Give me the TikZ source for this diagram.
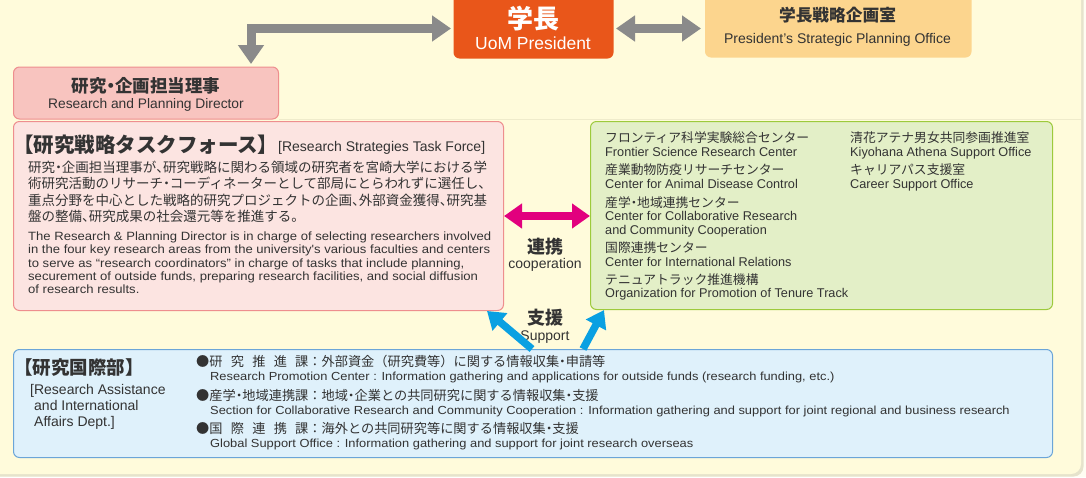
\documentclass[tikz,border=0pt]{standalone}
\usepackage{fontspec}
\setmainfont{Liberation Sans}
\newfontfamily\jp{Noto Sans CJK JP}
\newfontfamily\enA[FakeStretch=1.09]{Liberation Sans}
\newfontfamily\enB[FakeStretch=1.1]{Liberation Sans}
\usetikzlibrary{arrows.meta}
\definecolor{bgc}{HTML}{FFFBDB}
\definecolor{outerc}{HTML}{FFFDF2}
\definecolor{shadowc}{HTML}{E6E3CC}
\definecolor{faintc}{HTML}{EFEBCB}
\definecolor{presc}{HTML}{E9561A}
\definecolor{officec}{HTML}{FCD58E}
\definecolor{dirc}{HTML}{F8C4BF}
\definecolor{pinkline}{HTML}{EE8E8E}
\definecolor{tfc}{HTML}{FCE4E1}
\definecolor{grc}{HTML}{E3EFC7}
\definecolor{grline}{HTML}{9DCA3C}
\definecolor{blc}{HTML}{DFF1FB}
\definecolor{blline}{HTML}{6BA5D8}
\definecolor{greyarr}{HTML}{8A8A8A}
\definecolor{magarr}{HTML}{E2007E}
\definecolor{bluearr}{HTML}{0AA0E2}
\definecolor{txt}{HTML}{333333}
\newcommand\fsz[1]{\fontsize{#1pt}{#1pt}\selectfont}
\newcommand\nd{\makebox[0.5em][c]{・}}
\newcommand\tn{\makebox[0.5em][l]{、}}
\begin{document}
\begin{tikzpicture}[x=1pt,y=-1pt,
  box/.style={rounded corners=6pt, line width=1pt, inner sep=0pt, anchor=north west},
  tx/.style={anchor=base west, inner sep=0pt, text=txt},
  txc/.style={anchor=base, inner sep=0pt, text=txt},
  greyarrow/.style={draw=greyarr, line width=9pt, arrows={Triangle[width=25pt,length=19pt]-Triangle[width=25pt,length=19pt]}},
  magarrow/.style={draw=magarr, line width=8pt, arrows={Triangle[width=24pt,length=18pt]-Triangle[width=24pt,length=18pt]}},
  bluearrow/.style={draw=bluearr, line width=7.5pt, arrows={-Triangle[width=22pt,length=17pt]}},
  jpn/.style={tx, font=\jp\fsz{13.5}},
  enp/.style={tx, font=\enA\fsz{12}},
  gjp/.style={tx, font=\jp\fsz{12.8}},
  gen/.style={tx, font=\fsz{12.7}},
  bjp/.style={tx, font=\jp\fsz{13.2}},
  ben/.style={tx, font=\enB\fsz{11.7}}]
\clip (0,0) rectangle (1086,477);
\fill[outerc] (0,0) rectangle (1086,477);
\fill[shadowc, rounded corners=10pt] (-20,-20) rectangle (1083.5,476.5);
\fill[bgc, rounded corners=10pt] (-20,-20) rectangle (1081,474);

% boxes
\node[box, fill=presc, minimum width=160pt, minimum height=68pt] (pres) at (453,-10) {};
\node[box, fill=officec, minimum width=266.5pt, minimum height=67pt] (office) at (704.5,-10) {};
\node[box, fill=dirc, draw=pinkline, minimum width=265pt, minimum height=52pt] (dir) at (13,66.5) {};
\draw[faintc, line width=0.8pt] (dir.south east) -- (dir.south east -| 1081,0);
\node[box, fill=tfc, draw=pinkline, minimum width=490pt, minimum height=189pt] (tf) at (13,121) {};
\node[box, fill=grc, draw=grline, minimum width=462pt, minimum height=188pt] (green) at (590,121) {};
\node[box, fill=blc, draw=blline, minimum width=1039pt, minimum height=108pt] (blue) at (13,349) {};

% president
\node[txc, text=white, font=\jp\bfseries\fsz{26}] (presJ) at (533,28.6) {学長};
\node[txc, text=white, font=\fsz{17.5}] (presE) at (533,49.5) {UoM President};
% office
\node[txc, font=\jp\bfseries\fsz{16.7}] (offJ) at (837.5,21.9) {学長戦略企画室};
\node[txc, font=\fsz{14}] (offE) at (837.5,43) {President's Strategic Planning Office};
% director
\node[txc, font=\jp\bfseries\fsz{17.5}] (dirJ) at (146,92.5) {研究\nd 企画担当理事};
\node[txc, font=\fsz{13.8}] (dirE) at (146,108.6) {Research and Planning Director};

% task force
\node[tx, font=\jp\bfseries\fsz{20.5}] (tfT) at (12.8,152.5) {【研究戦略タスクフォース】};
\node[tx, font=\fsz{14}] (tfTE) at (278,151.5) {[Research Strategies Task Force]};
\node[jpn] (tj1) at (28,172) {研究\nd 企画担当理事が\tn 研究戦略に関わる領域の研究者を宮崎大学における学};
\node[jpn] (tj2) at (28,188.5) {術研究活動のリサーチ\nd コーディネーターとして部局にとらわれずに選任し\tn};
\node[jpn] (tj3) at (28,205) {重点分野を中心とした戦略的研究プロジェクトの企画\tn 外部資金獲得\tn 研究基};
\node[jpn] (tj4) at (28,221.5) {盤の整備\tn 研究成果の社会還元等を推進する。};
\node[enp] (te1) at (28,240.5) {The Research \& Planning Director is in charge of selecting researchers involved};
\node[enp] (te2) at (28,253.7) {in the four key research areas from the university's various faculties and centers};
\node[enp] (te3) at (28,267) {to serve as “research coordinators” in charge of tasks that include planning,};
\node[enp] (te4) at (28,280.2) {securement of outside funds, preparing research facilities, and social diffusion};
\node[enp] (te5) at (28,293.4) {of research results.};

% green box
\node[gjp] (g1j) at (605,142.6) {フロンティア科学実験総合センター};
\node[gen] (g1e) at (605,156.5) {Frontier Science Research Center};
\node[gjp] (g2j) at (605,174.1) {産業動物防疫リサーチセンター};
\node[gen] (g2e) at (605,188.5) {Center for Animal Disease Control};
\node[gjp] (g3j) at (605,207.6) {産学\nd 地域連携センター};
\node[gen] (g3e) at (605,220.7) {Center for Collaborative Research};
\node[gen] (g3f) at (605,234) {and Community Cooperation};
\node[gjp] (g4j) at (605,252.6) {国際連携センター};
\node[gen] (g4e) at (605,266) {Center for International Relations};
\node[gjp] (g5j) at (605,284.1) {テニュアトラック推進機構};
\node[gen] (g5e) at (605,297.5) {Organization for Promotion of Tenure Track};
\node[gjp] (g6j) at (850,142.6) {清花アテナ男女共同参画推進室};
\node[gen] (g6e) at (850,156.5) {Kiyohana Athena Support Office};
\node[gjp] (g7j) at (850,174.1) {キャリアパス支援室};
\node[gen] (g7e) at (850,188.5) {Career Support Office};

% middle labels
\node[txc, font=\jp\bfseries\fsz{18}] (renkei) at (545,253.7) {連携};
\node[txc, font=\fsz{14}] (coop) at (545,268.6) {cooperation};
\node[txc, font=\jp\bfseries\fsz{18}] (shien) at (545,324.7) {支援};
\node[txc, font=\fsz{14}] (supp) at (545,340.5) {Support};

% blue box
\node[tx, font=\jp\bfseries\fsz{18.5}] (kokJ) at (14,374.6) {【研究国際部】};
\node[tx, font=\fsz{14}] (kokE1) at (30,394.5) {[Research Assistance};
\node[tx, font=\fsz{14}] (kokE2) at (34,410.5) {and International};
\node[tx, font=\fsz{14}] (kokE3) at (34,426.5) {Affairs Dept.]};
\node[bjp] (b1j) at (196,366.6) {●\makebox[7.5em][s]{研\hfil 究\hfil 推\hfil 進\hfil 課}：外部資金（研究費等）に関する情報収集\nd 申請等};
\node[ben] (b1e) at (210,380.8) {Research Promotion Center : Information gathering and applications for outside funds (research funding, etc.)};
\node[bjp] (b2j) at (196,400.6) {●産学\nd 地域連携課：地域\nd 企業との共同研究に関する情報収集\nd 支援};
\node[ben] (b2e) at (210,414.8) {Section for Collaborative Research and Community Cooperation : Information gathering and support for joint regional and business research};
\node[bjp] (b3j) at (196,433.6) {●\makebox[7.5em][s]{国\hfil 際\hfil 連\hfil 携\hfil 課}：海外との共同研究等に関する情報収集\nd 支援};
\node[ben] (b3e) at (210,447.8) {Global Support Office : Information gathering and support for joint research overseas};

% connectors
\draw[greyarrow, shorten <=2pt, shorten >=2.5pt] (pres.west |- 0,28.5) -| (251,0 |- dir.north);
\draw[greyarrow, shorten <=2pt, shorten >=3.5pt] (pres.east |- 0,28.5) -- (office.west |- 0,28.5);
\draw[magarrow] (tf.east) -- (tf.east -| green.west);
\draw[bluearrow] (532,0 |- blue.north) -- (487,0 |- tf.south);
\draw[bluearrow] (583,0 |- blue.north) -- (604,0 |- green.south);
\end{tikzpicture}
\end{document}
